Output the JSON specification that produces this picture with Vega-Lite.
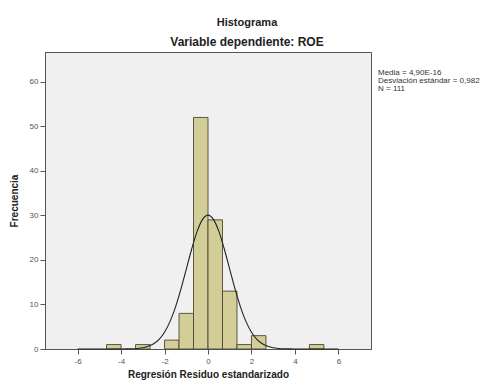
{
  "$schema": "https://vega.github.io/schema/vega-lite/v6.json",
  "width": 326,
  "height": 297,
  "autosize": {"type": "none"},
  "padding": {"left": 45, "top": 52, "right": 115, "bottom": 36},
  "background": "white",
  "view": {"fill": "#F0F0F0", "stroke": "#555555", "strokeWidth": 1},
  "title": {
    "text": "Histograma",
    "subtitle": "Variable dependiente: ROE",
    "anchor": "middle",
    "dx": 39,
    "font": "Liberation Sans",
    "fontSize": 11,
    "fontWeight": "bold",
    "color": "#222222",
    "subtitleFont": "Liberation Sans",
    "subtitleFontSize": 12,
    "subtitleFontWeight": "bold",
    "subtitleColor": "#222222",
    "subtitlePadding": 9,
    "offset": 4
  },
  "config": {
    "axis": {
      "grid": false,
      "domainColor": "#555555",
      "tickColor": "#555555",
      "tickSize": 5,
      "labelColor": "#555555",
      "labelFont": "Liberation Sans",
      "labelFontSize": 8,
      "titleFont": "Liberation Sans",
      "titleFontSize": 10,
      "titleFontWeight": "bold",
      "titleColor": "#222222"
    }
  },
  "datasets": {
    "bins": [
      {"bin_start": -4.667, "bin_end": -4.0, "count": 1},
      {"bin_start": -3.333, "bin_end": -2.667, "count": 1},
      {"bin_start": -2.0, "bin_end": -1.333, "count": 2},
      {"bin_start": -1.333, "bin_end": -0.667, "count": 8},
      {"bin_start": -0.667, "bin_end": 0.0, "count": 52},
      {"bin_start": 0.0, "bin_end": 0.667, "count": 29},
      {"bin_start": 0.667, "bin_end": 1.333, "count": 13},
      {"bin_start": 1.333, "bin_end": 2.0, "count": 1},
      {"bin_start": 2.0, "bin_end": 2.667, "count": 3},
      {"bin_start": 4.667, "bin_end": 5.333, "count": 1}
    ],
    "curve": [
      {"x": -6.0, "y": 0.0},
      {"x": -5.0, "y": 0.0},
      {"x": -4.5, "y": 0.001},
      {"x": -4.0, "y": 0.008},
      {"x": -3.75, "y": 0.02},
      {"x": -3.5, "y": 0.052},
      {"x": -3.25, "y": 0.126},
      {"x": -3.0, "y": 0.28},
      {"x": -2.75, "y": 0.6},
      {"x": -2.5, "y": 1.18},
      {"x": -2.25, "y": 2.18},
      {"x": -2.0, "y": 3.78},
      {"x": -1.75, "y": 6.15},
      {"x": -1.5, "y": 9.36},
      {"x": -1.25, "y": 13.37},
      {"x": -1.0, "y": 17.9},
      {"x": -0.75, "y": 22.46},
      {"x": -0.5, "y": 26.41},
      {"x": -0.25, "y": 29.11},
      {"x": 0.0, "y": 30.07},
      {"x": 0.25, "y": 29.11},
      {"x": 0.5, "y": 26.41},
      {"x": 0.75, "y": 22.46},
      {"x": 1.0, "y": 17.9},
      {"x": 1.25, "y": 13.37},
      {"x": 1.5, "y": 9.36},
      {"x": 1.75, "y": 6.15},
      {"x": 2.0, "y": 3.78},
      {"x": 2.25, "y": 2.18},
      {"x": 2.5, "y": 1.18},
      {"x": 2.75, "y": 0.6},
      {"x": 3.0, "y": 0.28},
      {"x": 3.25, "y": 0.126},
      {"x": 3.5, "y": 0.052},
      {"x": 3.75, "y": 0.02},
      {"x": 4.0, "y": 0.008},
      {"x": 4.5, "y": 0.001},
      {"x": 5.0, "y": 0.0},
      {"x": 6.0, "y": 0.0}
    ],
    "stats": [
      {"stat": "Media = 4,90E-16"},
      {"stat": "Desviación estándar = 0,982"},
      {"stat": "N = 111"}
    ]
  },
  "layer": [
    {
      "data": {"name": "bins"},
      "mark": {"type": "rect", "fill": "#D3CD97", "stroke": "#4A4832", "strokeWidth": 0.9},
      "encoding": {
        "x": {
          "field": "bin_start",
          "type": "quantitative",
          "scale": {"domain": [-7.5, 7.5], "nice": false, "zero": false},
          "axis": {"values": [-6, -4, -2, 0, 2, 4, 6], "title": "Regresión Residuo estandarizado", "titlePadding": 4, "labelPadding": 3, "labelExpr": "replace(datum.label, '−', '-')"}
        },
        "x2": {"field": "bin_end"},
        "y": {
          "field": "count",
          "type": "quantitative",
          "scale": {"domain": [0, 66.7], "nice": false},
          "axis": {"values": [0, 10, 20, 30, 40, 50, 60], "title": "Frecuencia", "titlePadding": 10, "labelPadding": 2}
        },
        "y2": {"datum": 0}
      }
    },
    {
      "data": {"name": "curve"},
      "mark": {"type": "line", "color": "#222222", "strokeWidth": 1.1, "interpolate": "monotone"},
      "encoding": {
        "x": {"field": "x", "type": "quantitative"},
        "y": {"field": "y", "type": "quantitative"}
      }
    },
    {
      "data": {"name": "stats"},
      "mark": {"type": "point", "opacity": 0},
      "encoding": {
        "color": {
          "field": "stat",
          "type": "nominal",
          "scale": {"domain": ["Media = 4,90E-16", "Desviación estándar = 0,982", "N = 111"], "range": ["#ffffff", "#ffffff", "#ffffff"]},
          "legend": {
            "title": null,
            "orient": "right",
            "offset": -18,
            "padding": 17,
            "symbolSize": 0,
            "symbolOpacity": 0,
            "symbolStrokeWidth": 0,
            "labelOffset": 0,
            "labelFont": "Liberation Sans",
            "labelFontSize": 8,
            "labelColor": "#333333",
            "labelLimit": 200,
            "rowPadding": 0
          }
        }
      }
    }
  ]
}
